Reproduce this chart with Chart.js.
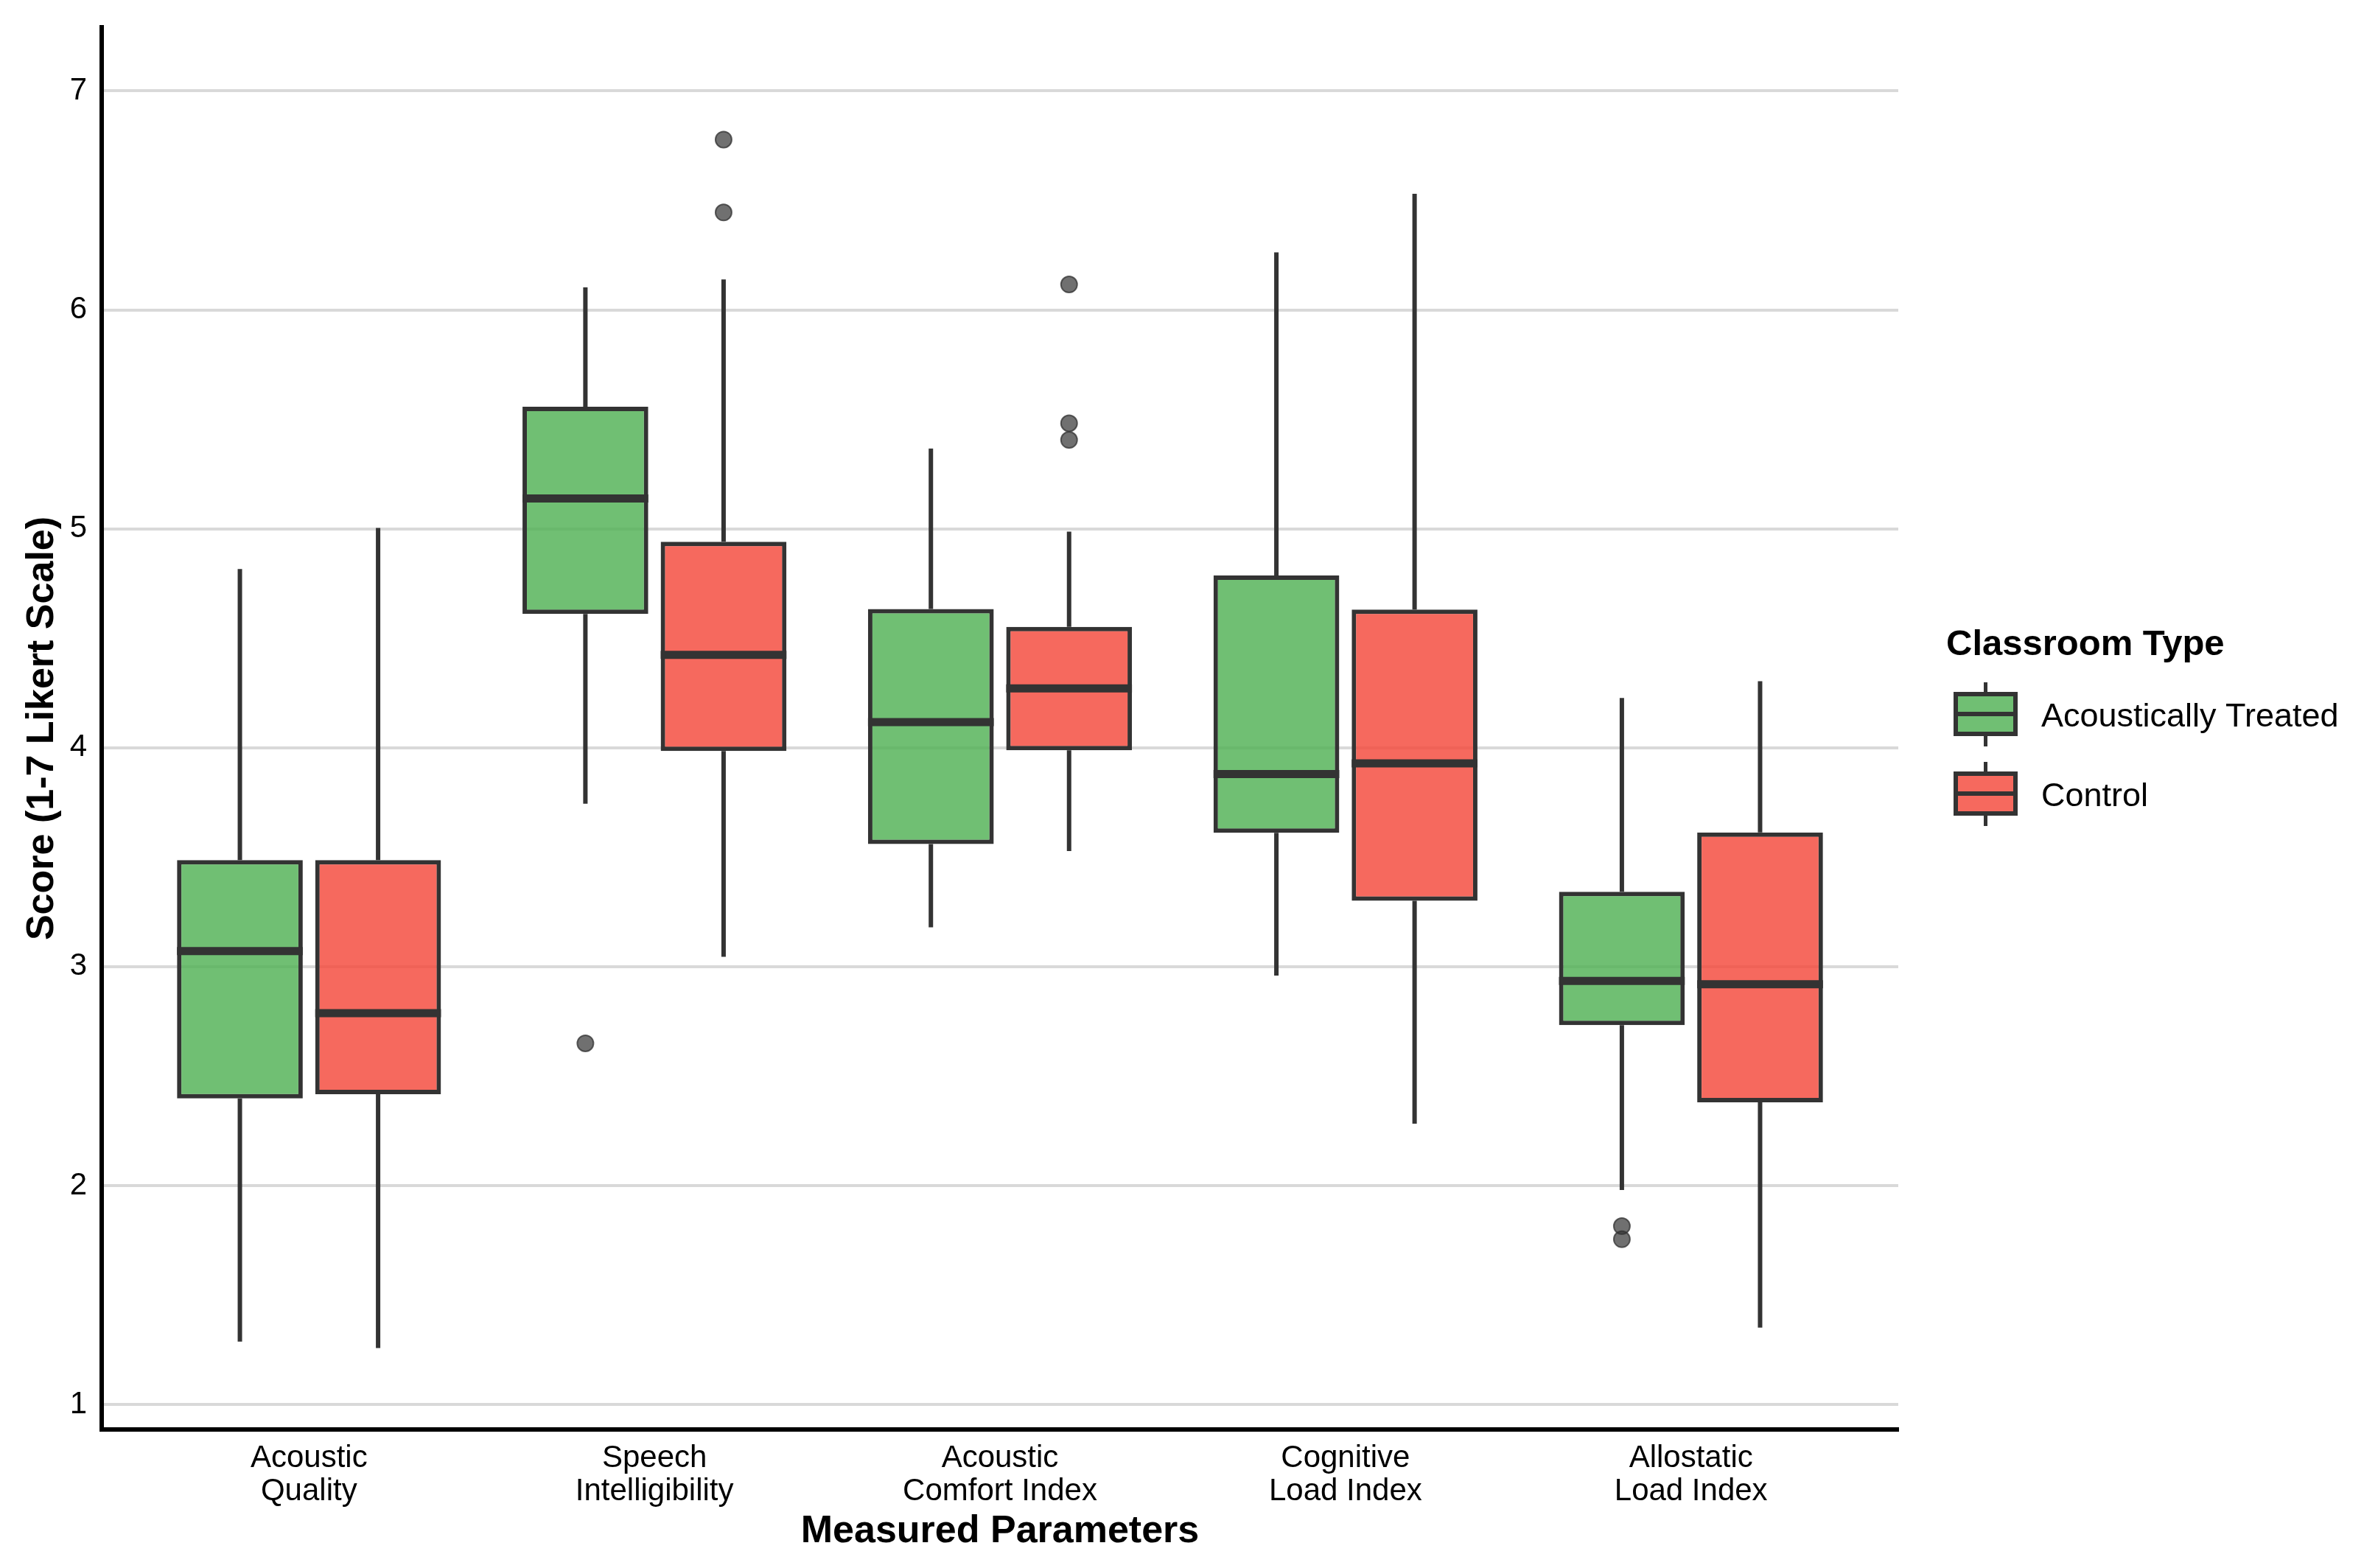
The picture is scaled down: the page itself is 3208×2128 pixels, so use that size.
<!DOCTYPE html>
<html lang="en">
<head>
<meta charset="utf-8">
<title>Classroom Type – Measured Parameters</title>
<script src="https://cdn.jsdelivr.net/npm/chart.js@4.4.1/dist/chart.umd.min.js"></script>
<style>
  html, body { margin: 0; padding: 0; background: #fff; overflow: hidden; }
  #chart { display: block; width: 3208px; height: 2128px; }
</style>
</head>
<body>
<canvas id="chart" width="3208" height="2128"></canvas>
<script>
// Categories, tick labels
const CATEGORIES = ['Acoustic Quality', 'Speech Intelligibility', 'Acoustic Comfort Index', 'Cognitive Load Index', 'Allostatic Load Index'];
const TICK_LABELS = [
  ['Acoustic', 'Quality'],
  ['Speech', 'Intelligibility'],
  ['Acoustic', 'Comfort Index'],
  ['Cognitive', 'Load Index'],
  ['Allostatic', 'Load Index']
];
const Y_TICKS = [1, 2, 3, 4, 5, 6, 7];
const SERIES_NAMES = ['Acoustically Treated', 'Control'];

// Acoustically Treated: whisker ends, quartiles, medians, outliers
const TREATED_LOW = [1.287, 3.744, 3.180, 2.959, 1.980];
const TREATED_Q1 = [2.398, 4.611, 3.560, 3.611, 2.733];
const TREATED_MED = [3.071, 5.139, 4.117, 3.880, 2.935];
const TREATED_Q3 = [3.487, 5.558, 4.634, 4.787, 3.342];
const TREATED_HIGH = [4.816, 6.103, 5.367, 6.263, 4.227];
const TREATED_OUT = [[], [2.650], [], [], [1.815, 1.755]];

// Control
const CONTROL_LOW = [1.258, 3.045, 3.528, 2.283, 1.351];
const CONTROL_Q1 = [2.417, 3.985, 3.988, 3.301, 2.380];
const CONTROL_MED = [2.788, 4.424, 4.271, 3.929, 2.920];
const CONTROL_Q3 = [3.487, 4.941, 4.552, 4.631, 3.613];
const CONTROL_HIGH = [5.004, 6.139, 4.987, 6.530, 4.304];
const CONTROL_OUT = [[], [6.778, 6.445], [6.116, 5.482, 5.406], [], []];

const FILLS = ['rgba(76, 175, 80, 0.8)', 'rgba(244, 67, 54, 0.8)'];
const EDGE = '#333333';
const FONT = '"Liberation Sans", Arial, Helvetica, sans-serif';

// ggplot-like dodge: boxes sit at +-0.2 around each category
const CAT_PCT = 0.8;
const BAR_PCT = 0.91;
const DODGE = CAT_PCT / 4;
const HALF_BOX = CAT_PCT * BAR_PCT / 4;

const groups = [
  { name: SERIES_NAMES[0], fill: FILLS[0], shift: -DODGE,
    low: TREATED_LOW, q1: TREATED_Q1, med: TREATED_MED, q3: TREATED_Q3, high: TREATED_HIGH, out: TREATED_OUT },
  { name: SERIES_NAMES[1], fill: FILLS[1], shift: DODGE,
    low: CONTROL_LOW, q1: CONTROL_Q1, med: CONTROL_MED, q3: CONTROL_Q3, high: CONTROL_HIGH, out: CONTROL_OUT }
];

const pos = (g, i) => i + 1 + g.shift;

// whiskers: two segments per box, broken by null so they don't run through the box
function whiskerPoints(g) {
  return g.low.flatMap((lo, i) => {
    const x = pos(g, i);
    return [{ x, y: lo }, { x, y: g.q1[i] }, { x, y: null },
            { x, y: g.q3[i] }, { x, y: g.high[i] }, { x, y: null }];
  });
}

function medianPoints(g) {
  return g.med.flatMap((m, i) => {
    const x = pos(g, i);
    return [{ x: x - HALF_BOX, y: m }, { x: x + HALF_BOX, y: m }, { x, y: null }];
  });
}

function outlierPoints(g) {
  return g.out.flatMap((vals, i) => vals.map(y => ({ x: pos(g, i), y })));
}

const lineStyle = {
  type: 'line',
  borderColor: EDGE,
  pointRadius: 0,
  spanGaps: false,
  fill: false,
  tension: 0,
  borderCapStyle: 'butt'
};

// first dataset is painted last, so: outliers, medians, boxes, whiskers
const datasets = [
  ...groups.map(g => ({
    type: 'scatter',
    label: g.name + ' outliers',
    data: outlierPoints(g),
    pointRadius: 11,
    pointBackgroundColor: 'rgba(51, 51, 51, 0.7)',
    pointBorderColor: 'rgba(51, 51, 51, 0.75)',
    pointBorderWidth: 2
  })),
  ...groups.map(g => ({ ...lineStyle, label: g.name + ' median', data: medianPoints(g), borderWidth: 11 })),
  ...groups.map(g => ({
    type: 'bar',
    label: g.name,
    data: g.q1.map((q, i) => ({ x: i + 1, y: [q, g.q3[i]] })),
    backgroundColor: g.fill,
    borderColor: EDGE,
    borderWidth: 6,
    borderSkipped: false,
    categoryPercentage: CAT_PCT,
    barPercentage: BAR_PCT
  })),
  ...groups.map(g => ({ ...lineStyle, label: g.name + ' whiskers', data: whiskerPoints(g), borderWidth: 6 }))
];

// legend on the right, drawn like ggplot box keys
const legendPlugin = {
  id: 'classroomLegend',
  afterDraw(chart) {
    const ctx = chart.ctx;
    const left = chart.chartArea.right + 65;
    const kx = left + 10, kw = 87, kh = 60;
    ctx.save();
    ctx.textAlign = 'left';
    ctx.textBaseline = 'alphabetic';
    ctx.fillStyle = '#000';
    ctx.font = 'bold 49px ' + FONT;
    ctx.fillText('Classroom Type', left, 889);

    groups.forEach((g, i) => {
      const cy = 969 + i * 108;
      const top = cy - kh / 2;
      ctx.fillStyle = g.fill;
      ctx.fillRect(kx, top, kw, kh);
      ctx.strokeStyle = EDGE;
      ctx.lineWidth = 6;
      ctx.strokeRect(kx + 3, top + 3, kw - 6, kh - 6);
      ctx.beginPath();
      ctx.moveTo(kx, cy);
      ctx.lineTo(kx + kw, cy);
      ctx.stroke();
      ctx.lineWidth = 5;
      ctx.beginPath();
      ctx.moveTo(kx + kw / 2, top - 13);
      ctx.lineTo(kx + kw / 2, top);
      ctx.moveTo(kx + kw / 2, top + kh);
      ctx.lineTo(kx + kw / 2, top + kh + 14);
      ctx.stroke();

      ctx.fillStyle = '#000';
      ctx.font = '45px ' + FONT;
      ctx.fillText(g.name, 2770, cy + 17);
    });
    ctx.restore();
  }
};

// keep tick-label overhang from pushing the plot area inwards
const noOverhang = axis => {
  axis.paddingTop = 0;
  axis.paddingBottom = 0;
  axis.paddingLeft = 0;
  axis.paddingRight = 0;
};

Chart.defaults.font.family = FONT;

new Chart(document.getElementById('chart'), {
  type: 'bar',
  data: { datasets },
  plugins: [legendPlugin],
  options: {
    responsive: false,
    devicePixelRatio: 1,
    animation: false,
    events: [],
    layout: { padding: { top: 37, right: 632, bottom: 0, left: 0 } },
    plugins: {
      legend: { display: false },
      tooltip: { enabled: false }
    },
    scales: {
      x: {
        type: 'linear',
        min: 0.4,
        max: 5.6,
        offset: false,
        afterBuildTicks: axis => { axis.ticks = CATEGORIES.map((_, i) => ({ value: i + 1 })); },
        afterFit: axis => { axis.height = 188; noOverhang(axis); },
        grid: { display: false, drawTicks: false },
        border: { display: true, color: '#000', width: 6 },
        ticks: {
          color: '#000',
          padding: 17,
          maxRotation: 0,
          autoSkip: false,
          font: { size: 42, lineHeight: 1.07 },
          callback: v => TICK_LABELS[v - 1]
        },
        title: {
          display: true,
          text: 'Measured Parameters',
          color: '#000',
          font: { size: 52, weight: 'bold' },
          padding: { top: 0, bottom: 18 }
        }
      },
      y: {
        min: 0.886,
        max: 7.291,
        afterBuildTicks: axis => { axis.ticks = Y_TICKS.map(v => ({ value: v })); },
        afterFit: axis => { axis.width = 138; noOverhang(axis); },
        grid: { color: '#d9d9d9', lineWidth: 4, drawTicks: false },
        border: { display: true, color: '#000', width: 6 },
        ticks: { color: '#000', padding: 20, font: { size: 42 } },
        title: {
          display: true,
          text: 'Score (1-7 Likert Scale)',
          color: '#000',
          font: { size: 52, weight: 'bold' },
          padding: { top: 26, bottom: 0 }
        }
      }
    }
  }
});
</script>
</body>
</html>
